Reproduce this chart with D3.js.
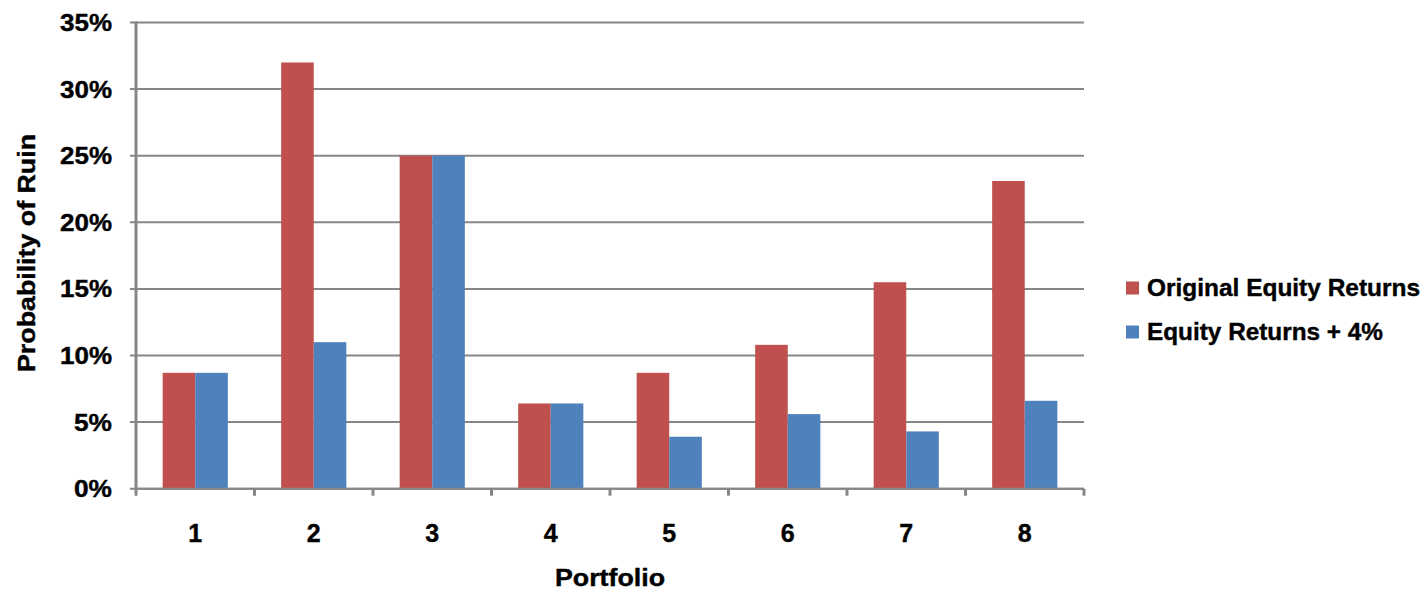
<!DOCTYPE html>
<html>
<head>
<meta charset="utf-8">
<script src="https://cdn.jsdelivr.net/npm/d3@7"></script>
<style>
  html, body { margin: 0; padding: 0; background: #fff; }
  svg text { font-family: "Liberation Sans", Arial, sans-serif; font-weight: bold; fill: #000; stroke: #000; stroke-width: 0.4px; }
</style>
</head>
<body>
<svg id="chart" width="1428" height="592"></svg>
<script>
// Portfolio categories and probability of ruin (%) for each scenario
const portfolios = ["1", "2", "3", "4", "5", "6", "7", "8"];
const seriesNames = ["Original Equity Returns", "Equity Returns + 4%"];
const originalReturns = [8.7, 32.0, 25.0, 6.4, 8.7, 10.8, 15.5, 23.1];
const returnsPlus4 = [8.7, 11.0, 25.0, 6.4, 3.9, 5.6, 4.3, 6.6];
const yTicks = [0, 5, 10, 15, 20, 25, 30, 35];
const colors = ["#C0504D", "#4F81BD"];

const rows = portfolios.map((p, i) => ({ p, values: [originalReturns[i], returnsPlus4[i]] }));

const svg = d3.select("#chart");
const plotLeft = 136, plotRight = 1084, plotTop = 22.5, plotBottom = 488.7;

const x0 = d3.scaleBand().domain(portfolios).range([plotLeft, plotRight]).padding(0);
const groupInset = x0.bandwidth() * 0.225;
const x1 = d3.scaleBand().domain([0, 1]).range([groupInset, x0.bandwidth() - groupInset]).padding(0);
const y = d3.scaleLinear().domain([0, 35]).range([plotBottom, plotTop]);

// horizontal gridlines
svg.append("g").selectAll("line").data(yTicks).join("line")
  .attr("x1", plotLeft - 6).attr("x2", plotRight)
  .attr("y1", d => y(d)).attr("y2", d => y(d))
  .attr("stroke", "#868686").attr("stroke-width", 2);

// bars
const groups = svg.append("g").selectAll("g").data(rows).join("g")
  .attr("transform", d => `translate(${x0(d.p)},0)`);
groups.selectAll("rect").data(d => d.values.map((v, k) => ({ v, k }))).join("rect")
  .attr("x", d => x1(d.k))
  .attr("width", x1.bandwidth())
  .attr("y", d => y(d.v))
  .attr("height", d => y(0) - y(d.v))
  .attr("fill", d => colors[d.k]);

// y axis line
svg.append("line")
  .attr("x1", plotLeft).attr("x2", plotLeft)
  .attr("y1", plotTop - 1).attr("y2", plotBottom + 7)
  .attr("stroke", "#868686").attr("stroke-width", 3);

// x axis line and category ticks
svg.append("line")
  .attr("x1", plotLeft).attr("x2", plotRight)
  .attr("y1", plotBottom).attr("y2", plotBottom)
  .attr("stroke", "#868686").attr("stroke-width", 2);
const boundaries = portfolios.map(p => x0(p) + x0.bandwidth());
svg.append("g").selectAll("line").data(boundaries).join("line")
  .attr("x1", d => d).attr("x2", d => d)
  .attr("y1", plotBottom).attr("y2", plotBottom + 7)
  .attr("stroke", "#868686").attr("stroke-width", 3);

// y tick labels
svg.append("g").selectAll("text").data(yTicks).join("text")
  .attr("x", 112).attr("y", d => y(d))
  .attr("dy", "0.35em")
  .attr("text-anchor", "end")
  .attr("font-size", 24)
  .attr("textLength", d => (d < 10 ? 38 : 52))
  .attr("lengthAdjust", "spacingAndGlyphs")
  .text(d => d + "%");

// x tick labels
svg.append("g").selectAll("text").data(portfolios).join("text")
  .attr("x", d => x0(d) + x0.bandwidth() / 2).attr("y", 533)
  .attr("dy", "0.35em")
  .attr("text-anchor", "middle")
  .attr("font-size", 25)
  .text(d => d);

// axis titles
svg.append("text")
  .attr("x", (plotLeft + plotRight) / 2).attr("y", 578)
  .attr("dy", "0.35em").attr("text-anchor", "middle")
  .attr("font-size", 23)
  .attr("textLength", 110).attr("lengthAdjust", "spacingAndGlyphs")
  .text("Portfolio");
svg.append("text")
  .attr("transform", "translate(27,253) rotate(-90)")
  .attr("dy", "0.35em").attr("text-anchor", "middle")
  .attr("font-size", 24)
  .attr("textLength", 238).attr("lengthAdjust", "spacingAndGlyphs")
  .text("Probability of Ruin");

// legend
const legendWidths = [273, 236];
const legend = svg.append("g").selectAll("g").data(seriesNames).join("g")
  .attr("transform", (d, i) => `translate(1126,${288 + i * 44})`);
legend.append("rect")
  .attr("x", 0).attr("y", -6.5).attr("width", 13).attr("height", 13)
  .attr("fill", (d, i) => colors[i]);
legend.append("text")
  .attr("x", 21).attr("y", 0).attr("dy", "0.35em")
  .attr("font-size", 24)
  .attr("textLength", (d, i) => legendWidths[i])
  .attr("lengthAdjust", "spacingAndGlyphs")
  .text(d => d);
</script>
</body>
</html>
